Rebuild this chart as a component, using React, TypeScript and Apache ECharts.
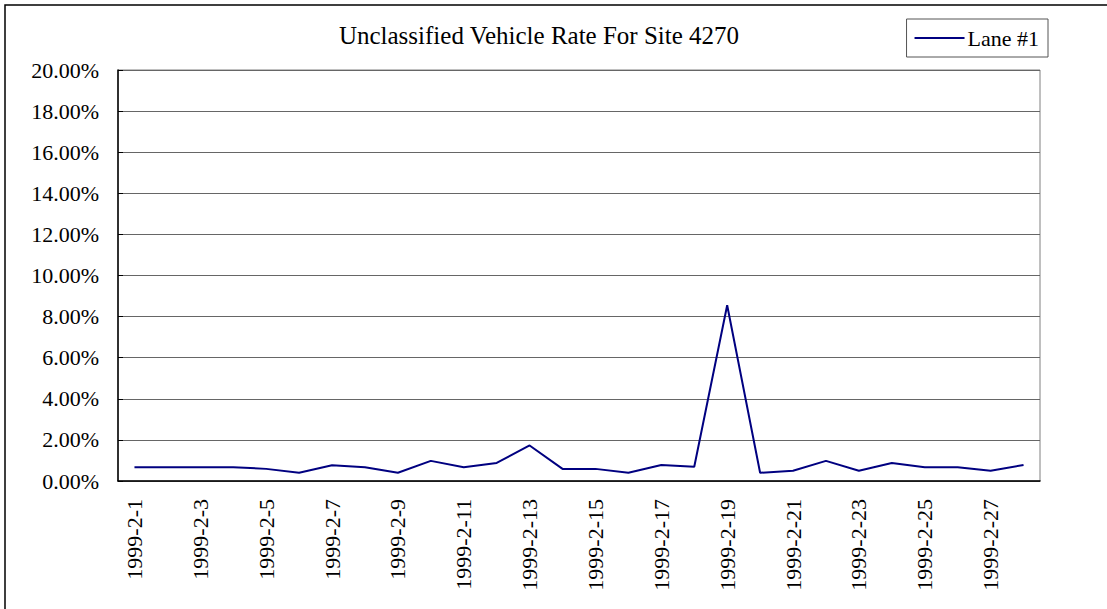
import React, { useEffect, useRef } from "react";
import * as echarts from "echarts";

const titleText = "Unclassified Vehicle Rate For Site 4270";
const seriesName = "Lane #1";
const categories = [
  "1999-2-1", "1999-2-2", "1999-2-3", "1999-2-4", "1999-2-5", "1999-2-6", "1999-2-7",
  "1999-2-8", "1999-2-9", "1999-2-10", "1999-2-11", "1999-2-12", "1999-2-13", "1999-2-14",
  "1999-2-15", "1999-2-16", "1999-2-17", "1999-2-18", "1999-2-19", "1999-2-20", "1999-2-21",
  "1999-2-22", "1999-2-23", "1999-2-24", "1999-2-25", "1999-2-26", "1999-2-27", "1999-2-28",
];
// percent values
const lane1 = [
  0.67, 0.67, 0.67, 0.67, 0.59, 0.4, 0.77,
  0.67, 0.4, 0.98, 0.67, 0.88, 1.73, 0.59,
  0.59, 0.4, 0.78, 0.69, 8.55, 0.4, 0.5,
  0.98, 0.5, 0.88, 0.67, 0.67, 0.5, 0.78,
];
const yMin = 0;
const yMax = 20;
const yStep = 2;

const FONT = "'Liberation Serif', 'Times New Roman', serif";

export default function App() {
  const ref = useRef<HTMLDivElement>(null);
  useEffect(() => {
    if (!ref.current) return;
    const chart = echarts.init(ref.current, null, { renderer: "svg" });
    chart.setOption({
      animation: false,
      backgroundColor: "#ffffff",
      textStyle: { fontFamily: FONT, color: "#000" },
      graphic: [
        {
          type: "rect",
          shape: { x: 5, y: 5, width: 1200, height: 700 },
          style: { fill: "none", stroke: "#000", lineWidth: 1.5 },
          silent: true,
          z: -1,
        },
      ],
      title: {
        text: titleText,
        left: 534,
        textAlign: "center",
        top: 18,
        textStyle: { fontFamily: FONT, fontSize: 25, fontWeight: "normal", color: "#000" },
      },
      legend: {
        data: [seriesName],
        right: 59,
        top: 19,
        orient: "horizontal",
        itemWidth: 50,
        itemHeight: 2,
        itemGap: 6,
        padding: [8, 9, 8, 8],
        borderColor: "#555",
        borderWidth: 1,
        borderRadius: 0,
        textStyle: { fontFamily: FONT, fontSize: 22, color: "#000", padding: [0, 0, 0, -2] },
        icon: "rect",
      },
      grid: {
        left: 118,
        right: 67,
        top: 70,
        bottom: 128,
        show: true,
        borderColor: "#808080",
        borderWidth: 1,
        containLabel: false,
      },
      xAxis: {
        type: "category",
        data: categories,
        boundaryGap: true,
        axisLine: { lineStyle: { color: "#000", width: 1.5 } },
        axisTick: { inside: true, length: 5, interval: 1, lineStyle: { color: "#000" } },
        axisLabel: {
          interval: 1,
          rotate: 90,
          margin: 18,
          fontFamily: FONT,
          fontSize: 22,
          color: "#000",
        },
        splitLine: { show: false },
      },
      yAxis: {
        type: "value",
        min: yMin,
        max: yMax,
        interval: yStep,
        axisLine: { show: true, lineStyle: { color: "#000", width: 1.5 } },
        axisTick: { show: true, inside: true, length: 5, lineStyle: { color: "#000" } },
        axisLabel: {
          formatter: (v: number) => v.toFixed(2) + "%",
          margin: 19,
          fontFamily: FONT,
          fontSize: 22,
          color: "#000",
        },
        splitLine: { show: true, lineStyle: { color: "#666", width: 1 } },
      },
      series: [
        {
          name: seriesName,
          type: "line",
          data: lane1,
          symbol: "none",
          lineStyle: { color: "#000080", width: 2 },
          itemStyle: { color: "#000080" },
        },
      ],
    });
    return () => chart.dispose();
  }, []);
  return (
    <div
      ref={ref}
      style={{ position: "fixed", left: 0, top: 0, width: 1107, height: 609 }}
    />
  );
}
